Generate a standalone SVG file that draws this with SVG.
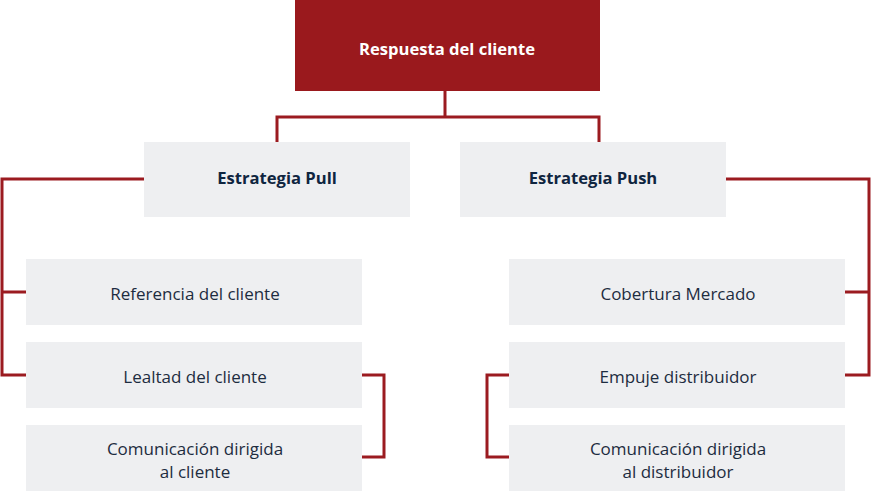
<svg xmlns="http://www.w3.org/2000/svg" width="871" height="491" viewBox="0 0 871 491">
<style>
.box{fill:#EEEFF1}
.lbl{font-family:"Open Sans","Liberation Sans",sans-serif;font-size:17px;fill:#1D2C40;text-anchor:middle}
.hd{font-family:"Open Sans","Liberation Sans",sans-serif;font-size:16.6px;font-weight:bold;fill:#0F2540;text-anchor:middle}
.conn{fill:none;stroke:#9B1B20;stroke-width:3}
</style>
<rect width="871" height="491" fill="#fff"/>
<g id="connectors">
<path class="conn" d="M445 91V117M277 142V117H599V142"/>
<path class="conn" d="M144 179H2V375H26M2 292H26"/>
<path class="conn" d="M362 375H384V457H362"/>
<path class="conn" d="M726 179H869V375H845M869 292H845"/>
<path class="conn" d="M509 375H487V457H509"/>
</g>
<g id="root">
<rect x="295" y="0" width="305" height="91" fill="#9A191D"/>
<text class="hd" x="447" y="55" style="fill:#fff">Respuesta del cliente</text>
</g>
<g id="pull">
<rect class="box" x="144" y="142" width="266" height="75"/>
<text class="hd" x="277" y="184">Estrategia Pull</text>
</g>
<g id="push">
<rect class="box" x="460" y="142" width="266" height="75"/>
<text class="hd" x="593" y="184">Estrategia Push</text>
</g>
<g id="referencia">
<rect class="box" x="26" y="259" width="336" height="66"/>
<text class="lbl" x="195" y="300">Referencia del cliente</text>
</g>
<g id="lealtad">
<rect class="box" x="26" y="342" width="336" height="66"/>
<text class="lbl" x="195" y="383">Lealtad del cliente</text>
</g>
<g id="comcliente">
<rect class="box" x="26" y="425" width="336" height="66"/>
<text class="lbl" x="195" y="455">Comunicación dirigida</text>
<text class="lbl" x="195" y="478">al cliente</text>
</g>
<g id="cobertura">
<rect class="box" x="509" y="259" width="336" height="66"/>
<text class="lbl" x="678" y="300">Cobertura Mercado</text>
</g>
<g id="empuje">
<rect class="box" x="509" y="342" width="336" height="66"/>
<text class="lbl" x="678" y="383">Empuje distribuidor</text>
</g>
<g id="comdist">
<rect class="box" x="509" y="425" width="336" height="66"/>
<text class="lbl" x="678" y="455">Comunicación dirigida</text>
<text class="lbl" x="678" y="478">al distribuidor</text>
</g>
</svg>
